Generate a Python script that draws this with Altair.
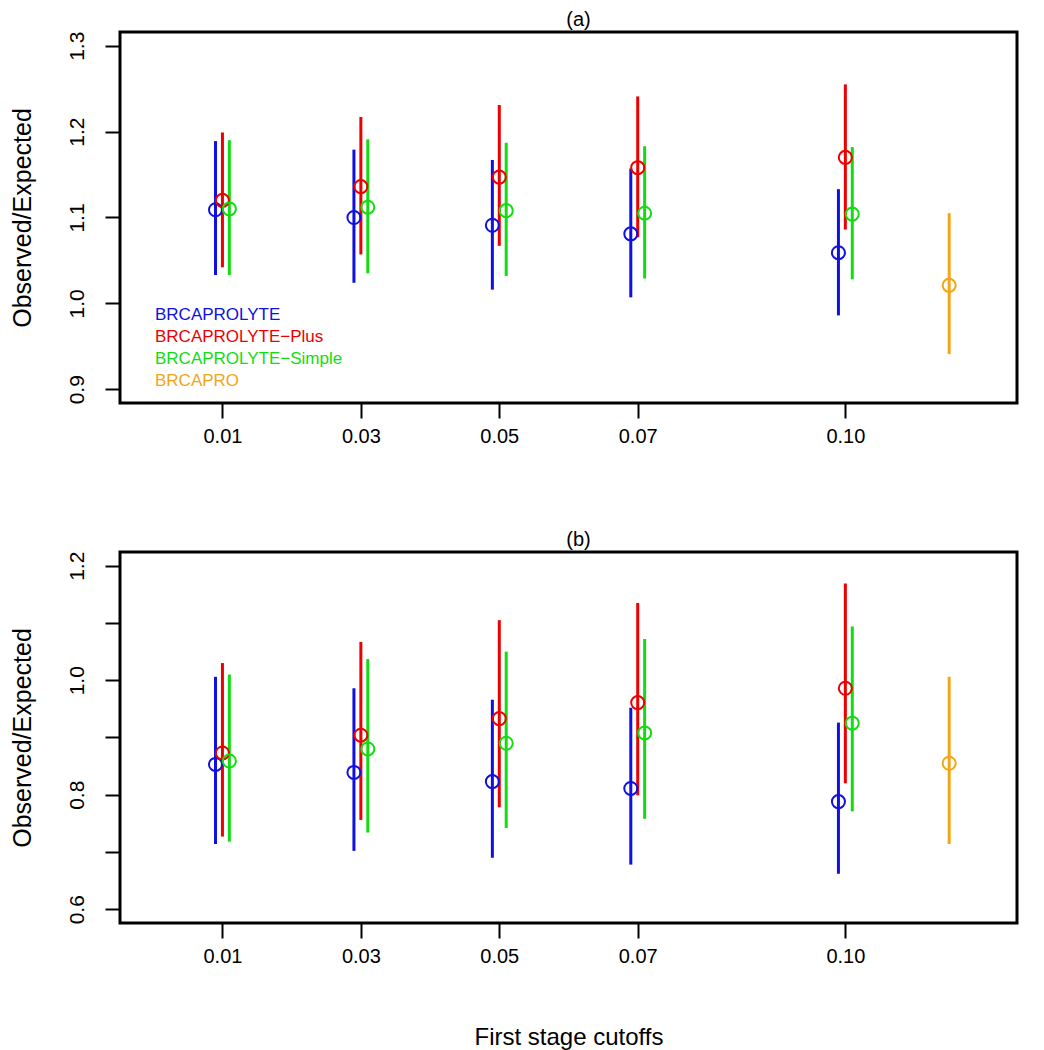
import altair as alt
import pandas as pd

cutoffs = [0.01, 0.03, 0.05, 0.07, 0.10]
series = ["BRCAPROLYTE", "BRCAPROLYTE\u2212Plus", "BRCAPROLYTE\u2212Simple", "BRCAPRO"]
colors = ["#1010E0", "#EE0000", "#11DD11", "#F2A516"]

# ---- panel (a) ----
a_lyte = [1.109, 1.100, 1.091, 1.081, 1.059]
a_lyte_lo = [1.033, 1.024, 1.016, 1.007, 0.986]
a_lyte_hi = [1.189, 1.179, 1.167, 1.157, 1.133]
a_plus = [1.120, 1.136, 1.147, 1.158, 1.170]
a_plus_lo = [1.042, 1.057, 1.067, 1.077, 1.086]
a_plus_hi = [1.199, 1.217, 1.231, 1.241, 1.255]
a_simple = [1.110, 1.112, 1.108, 1.105, 1.104]
a_simple_lo = [1.033, 1.035, 1.032, 1.029, 1.028]
a_simple_hi = [1.190, 1.191, 1.187, 1.183, 1.182]
a_brcapro = [1.021, 0.941, 1.105]  # estimate, lower, upper

# ---- panel (b) ----
b_lyte = [0.853, 0.839, 0.823, 0.811, 0.788]
b_lyte_lo = [0.714, 0.702, 0.690, 0.678, 0.662]
b_lyte_hi = [1.006, 0.986, 0.966, 0.952, 0.926]
b_plus = [0.873, 0.904, 0.933, 0.961, 0.986]
b_plus_lo = [0.727, 0.756, 0.778, 0.799, 0.820]
b_plus_hi = [1.030, 1.067, 1.105, 1.135, 1.169]
b_simple = [0.859, 0.880, 0.890, 0.908, 0.925]
b_simple_lo = [0.718, 0.734, 0.742, 0.758, 0.771]
b_simple_hi = [1.010, 1.037, 1.050, 1.072, 1.094]
b_brcapro = [0.855, 0.714, 1.006]

brcapro_pos = 0.115
offsets = [-0.001, 0.0, 0.001]

FONT = "Liberation Sans"


def build(groups, bp):
    rows = []
    for s, off, (e, l, h) in zip(series[:3], offsets, groups):
        for c, ev, lv, hv in zip(cutoffs, e, l, h):
            rows.append(dict(series=s, x=c + off, est=ev, lo=lv, hi=hv))
    rows.append(dict(series=series[3], x=brcapro_pos, est=bp[0], lo=bp[1], hi=bp[2]))
    return pd.DataFrame(rows)


df_a = build([(a_lyte, a_lyte_lo, a_lyte_hi), (a_plus, a_plus_lo, a_plus_hi),
              (a_simple, a_simple_lo, a_simple_hi)], a_brcapro)
df_b = build([(b_lyte, b_lyte_lo, b_lyte_hi), (b_plus, b_plus_lo, b_plus_hi),
              (b_simple, b_simple_lo, b_simple_hi)], b_brcapro)


def panel(df, title, ydomain, yticks, label_expr, xtitle, legend):
    xscale = alt.Scale(domain=[-0.0048, 0.1248], nice=False, zero=False)
    yscale = alt.Scale(domain=ydomain, nice=False, zero=False)
    color = alt.Color("series:N", scale=alt.Scale(domain=series, range=colors), legend=None)
    xaxis = alt.Axis(values=cutoffs, format=".2f", title=xtitle, grid=False, domain=False,
                     tickSize=15, tickWidth=2, labelPadding=8, labelFontSize=20,
                     titleFontSize=24, titlePadding=59, labelFlush=False)
    yaxis = alt.Axis(values=yticks, labelExpr=label_expr, title="Observed/Expected",
                     grid=False, domain=False, tickSize=15, tickWidth=2,
                     labelAngle=270, labelAlign="center", labelBaseline="bottom",
                     labelPadding=18, labelFontSize=21, titleFontSize=25,
                     titlePadding=30, minExtent=55, maxExtent=55, labelFlush=False)
    base = alt.Chart(df)
    rules = base.mark_rule(strokeWidth=3).encode(
        x=alt.X("x:Q", scale=xscale, axis=xaxis),
        y=alt.Y("lo:Q", scale=yscale, axis=yaxis),
        y2="hi:Q",
        color=color,
    )
    pts = base.mark_point(shape="circle", filled=False, size=170, strokeWidth=2, opacity=1).encode(
        x=alt.X("x:Q", scale=xscale),
        y=alt.Y("est:Q", scale=yscale),
        color=color,
    )
    layers = [rules, pts]
    if legend:
        for i, (s, c) in enumerate(zip(series, colors)):
            layers.append(
                alt.Chart(pd.DataFrame({"t": [s]})).mark_text(
                    align="left", baseline="middle", fontSize=17, font=FONT, color=c
                ).encode(x=alt.value(35), y=alt.value(283 + 22 * i), text="t:N")
            )
    return alt.layer(*layers).properties(
        width=897, height=371,
        title=alt.TitleParams(text=title, fontSize=20, fontWeight="normal", font=FONT,
                              offset=1, dx=10, color="black"),
    )


pa = panel(df_a, "(a)", [0.884, 1.316], [0.9, 1.0, 1.1, 1.2, 1.3],
           "format(datum.value, '.1f')", None, True)
pb = panel(df_b, "(b)", [0.576, 1.224], [0.6, 0.7, 0.8, 0.9, 1.0, 1.1, 1.2],
           "round(datum.value * 10) % 2 == 0 ? format(datum.value, '.1f') : ''",
           "First stage cutoffs", False)

chart = alt.vconcat(pa, pb, spacing=80).properties(
    padding={"left": 0, "top": 0, "right": 5, "bottom": 5},
    background="white",
).configure_view(stroke="black", strokeWidth=3).configure_axis(
    labelFont=FONT, titleFont=FONT, labelColor="black", titleColor="black",
    tickColor="black", titleFontWeight="normal"
)

chart.save("out.html", embed_options={"renderer": "svg", "actions": False})
